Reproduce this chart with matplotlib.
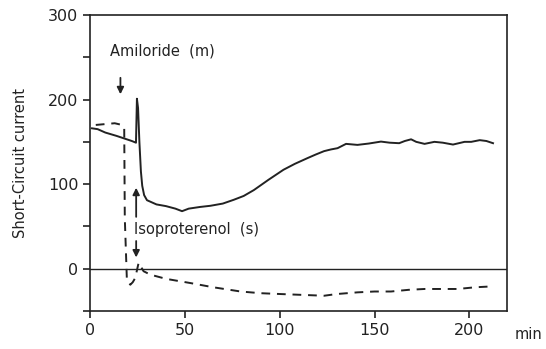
import numpy as np
import matplotlib
matplotlib.use("Agg")
import matplotlib.pyplot as plt

# =========================================================
# DATA
# =========================================================

# short-circuit current, mucosal amiloride (solid)
t_solid = [1, 4, 8, 14, 18, 22, 24.2, 24.7, 25.3, 26.0, 26.8, 27.5, 28.5, 30,
           35, 40, 45, 48.5, 52, 58, 63.5, 70, 75.8, 81, 86.4, 94, 102, 108,
           114.6, 119, 123.4, 127, 130.5, 135, 141, 147, 153.4, 158, 163, 166,
           169.3, 172, 176.4, 181.6, 186, 191.4, 197.5, 201, 205.5, 209, 212.5]
isc_solid = [166, 165, 161, 157, 154, 151, 149, 201, 190, 150, 115, 98, 87, 81,
             76, 74, 71, 68, 71, 73, 74.4, 77, 81.5, 86, 93, 105, 117, 124,
             130.7, 135, 139, 141, 142.5, 147.6, 146.4, 148, 150.3, 149, 148.4, 151,
             153, 150, 147.6, 150, 149, 146.8, 150, 150, 152, 151, 148.4]

# short-circuit current, serosal isoproterenol (dashed)
t_dash = [3, 8, 13, 16.8, 18.0, 18.3, 19.4, 21.2, 22.5, 23.8, 25.6, 28.2, 31.7,
          40, 52.9, 65, 79.4, 90, 100.5, 112, 123.4, 130, 141, 150, 158.7,
          168, 176.4, 185, 194, 203, 211.6]
isc_dash = [170, 171, 172, 170, 166, 60, -13, -19, -16, -11, 7, -3, -7,
            -12, -17, -22, -27, -29, -30, -31, -32, -30, -28, -27, -27,
            -25, -24, -24, -24, -22, -21]

yticks = [-50, 0, 50, 100, 150, 200, 250, 300]
ytick_labels = ["", "0", "", "100", "", "200", "", "300"]
xticks = [0, 50, 100, 150, 200]

ink = "#222222"

# =========================================================
# PLOT
# =========================================================

fig = plt.figure(figsize=(5.46, 3.49), dpi=100)
ax = fig.add_axes([0.165, 0.109, 0.764, 0.848])

ax.plot(t_solid, isc_solid, color=ink, lw=1.4)
ax.plot(t_dash, isc_dash, color=ink, lw=1.4, dashes=(4.5, 3.5))
ax.axhline(0, color=ink, lw=1.0)

ax.set_xlim(0, 220)
ax.set_ylim(-50, 300)
ax.set_yticks(yticks)
ax.set_yticklabels(ytick_labels)
ax.set_xticks(xticks)

for s in ax.spines.values():
    s.set_color(ink)
    s.set_linewidth(1.2)
ax.tick_params(colors=ink, labelsize=11.5, length=5, width=1.2)

ax.set_ylabel("Short-Circuit current", fontsize=10.5, color=ink, labelpad=14)
fig.text(0.943, 0.03, "min", fontsize=10.5, color=ink)

# annotations
ax.text(10.5, 258, "Amiloride  (m)", fontsize=10.5, color=ink, va="center")
ax.annotate("", xy=(16, 203), xytext=(16, 229),
            arrowprops=dict(arrowstyle="-|>", color=ink, lw=1.3,
                            mutation_scale=10))
ax.text(23.3, 46, "Isoproterenol  (s)", fontsize=10.5, color=ink, va="center")
ax.annotate("", xy=(24.3, 99), xytext=(24.3, 58),
            arrowprops=dict(arrowstyle="-|>", color=ink, lw=1.3,
                            mutation_scale=10))
ax.annotate("", xy=(24.3, 10), xytext=(24.3, 36),
            arrowprops=dict(arrowstyle="-|>", color=ink, lw=1.3,
                            mutation_scale=10))

fig.savefig("out.png", dpi=100)
